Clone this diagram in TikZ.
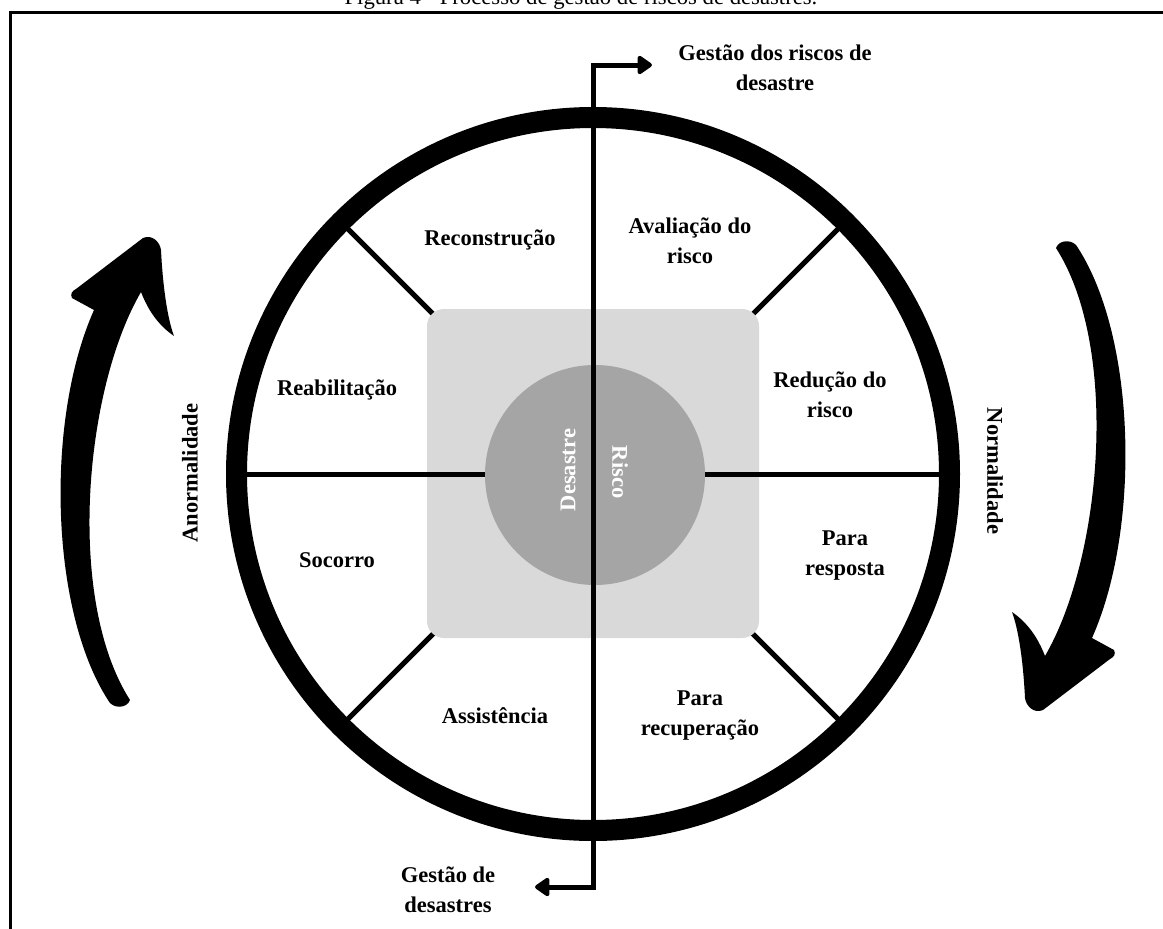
\documentclass[tikz,border=0pt]{standalone}
\usepackage{fontspec}
\setmainfont{Liberation Serif}
\usetikzlibrary{arrows.meta,calc}
\definecolor{sqgray}{HTML}{D9D9D9}
\definecolor{coregray}{HTML}{A5A5A5}
\begin{document}
\begin{tikzpicture}[x=1pt,y=-1pt,
  lbl/.style={font=\fontsize{22.5}{30}\selectfont\bfseries, align=center, inner sep=0pt},
  wlbl/.style={lbl, text=white},
  divider/.style={line width=5pt},
  conn/.style={line width=5pt, line join=miter, {Triangle[length=16pt,width=21pt,round]}-{Triangle[length=16pt,width=21pt,round]}},
  frame/.style={line width=3pt}]
\useasboundingbox (0,0) rectangle (1163,929);
\clip (0,0) rectangle (1163,929);
% caption (cut off at the top)
\node[font=\fontsize{22.7}{27}\selectfont, anchor=base, inner sep=0pt] (cap) at (581,4) {Figura 4 - Processo de gestão de riscos de desastres.};
% frame
\draw[frame] (10,940) -- (10,12) -- (1175,12);
% centre
\coordinate (c) at (593,474);
% diagonal dividers
\foreach \a in {45,135,225,315}{
  \draw[divider] ($(c)+(\a:200)$) -- ($(c)+(\a:348)$);
}
% light rounded square
\node[fill=sqgray, rounded corners=17pt, minimum width=332pt, minimum height=329pt, inner sep=0pt] (sq) at (593,473.5) {};
% horizontal dividers
\coordinate (hl) at ($(c)+(-348,0)$);
\coordinate (hr) at ($(c)+(348,0)$);
\draw[divider] (hl) -- (594,474);
\draw[divider] (hr) -- (594,474);
% core circle
\node[circle, fill=coregray, minimum size=220pt, inner sep=0pt] (core) at (595,475) {};
\node[wlbl, rotate=90] (des) at (568,470) {Desastre};
\node[wlbl, rotate=-90] (ris) at (620,472) {Risco};
% ring
\draw[line width=21pt] (c) circle[radius=356.5];
% vertical connector with arrows
\coordinate (topC) at (593,65);
\coordinate (topE) at (652,65);
\coordinate (botC) at (593,887);
\coordinate (botE) at (535,887);
\draw[conn] (botE) -- (botC) -- (topC) -- (topE);
\node[lbl] (gr) at (775,68) {Gestão dos riscos de\\desastre};
\node[lbl] (gd) at (448,890) {Gestão de\\desastres};
% sector labels
\node[lbl] (rec) at (490,240) {Reconstrução};
\node[lbl] (ava) at (690,241) {Avaliação do\\risco};
\node[lbl] (reab) at (337,390) {Reabilitação};
\node[lbl] (red) at (830,395) {Redução do\\risco};
\node[lbl] (soc) at (337,560) {Socorro};
\node[lbl] (pres) at (845,556) {Para\\resposta};
\node[lbl] (ass) at (495,716) {Assistência};
\node[lbl] (prec) at (700,716) {Para\\recuperação};
% side labels
\node[lbl, rotate=90] (anor) at (190,473) {Anormalidade};
\node[lbl, rotate=-90] (norm) at (995,471) {Normalidade};
% brush arrows
\def\brush{(108,700) .. controls (50,610) and (45,420) .. (94,310) -- (72,298) .. controls (70,294) and (72,291) .. (76,289) -- (143,238) .. controls (152,234) and (160,242) .. (161,250) .. controls (163,290) and (168,320) .. (174,336) .. controls (158,325) and (148,310) .. (141,292) .. controls (84,390) and (66,600) .. (130,700) .. controls (127,709) and (112,709) .. (108,700) -- cycle}
\fill[black] \brush;
\fill[black, rotate around={180:(c)}] \brush;
\end{tikzpicture}
\end{document}
